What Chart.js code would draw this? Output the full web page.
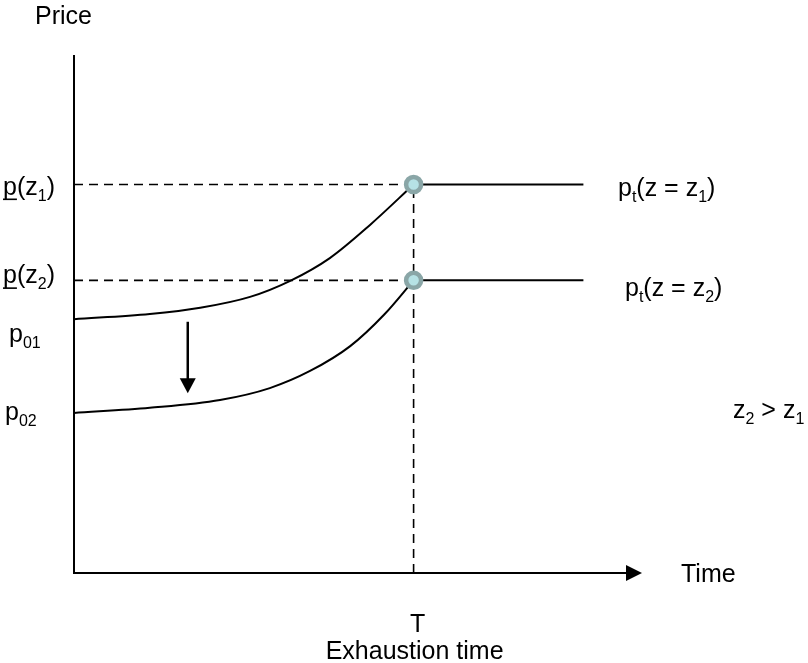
<!DOCTYPE html>
<html>
<head>
<meta charset="utf-8">
<title>Exhaustion time</title>
<script src="https://cdn.jsdelivr.net/npm/chart.js@4.4.1/dist/chart.umd.min.js"></script>
<style>
    body { margin: 0; background: #ffffff; }
    #wrap { width: 808px; height: 663px; }
</style>
</head>
<body>
<div id="wrap"><canvas id="chart_exhaustion" width="808" height="663"></canvas></div>
<script>
// ===== data (time 0..100, price 0..100) =====
var timeMax = 100;
var priceMax = 100;
var timeT = 60;          // exhaustion time
var timeEnd = 90;        // end of the flat price lines
var priceCaps = [75, 56.5];   // p(z1), p(z2)

var curveTimes1  = [0, 13.4, 22.3, 31.1, 38.2, 45.2, 52.3, 60];
var curvePrices1 = [49.0, 50.0, 51.2, 53.3, 56.4, 60.8, 67.2, 75];
var curveTimes2  = [0, 13.4, 25.8, 34.6, 41.7, 48.8, 54.9, 60];
var curvePrices2 = [30.9, 31.9, 33.4, 35.7, 39.0, 43.8, 50.0, 56.5];

var shiftTime = 20.1;           // the down arrow
var shiftPrices = [48.5, 34.7]; // from, to

var FONT = '"Liberation Sans", Arial, sans-serif';

function toPoints(xs, ys){
    var arr = [];
    for(var i = 0; i < xs.length; i++){
        arr.push({x: xs[i], y: ys[i]});
    }
    return arr;
}

function lineSet(data, dash){
    return {
        data: data,
        showLine: true,
        borderColor: '#000000',
        borderWidth: dash ? 1.6 : 2,
        borderDash: dash ? [9, 6] : [],
        pointRadius: 0,
        fill: false,
        order: 1
    };
}

var curve1 = lineSet(toPoints(curveTimes1, curvePrices1), false);
curve1.cubicInterpolationMode = 'monotone';
var curve2 = lineSet(toPoints(curveTimes2, curvePrices2), false);
curve2.cubicInterpolationMode = 'monotone';

var datasets = [
    {
        // markers at T, drawn on top of the lines
        data: [{x: timeT, y: priceCaps[0]}, {x: timeT, y: priceCaps[1]}],
        showLine: false,
        pointRadius: 7.5,
        pointBorderWidth: 4.5,
        pointBackgroundColor: '#b6e2e5',
        pointBorderColor: '#8aa6a7',
        order: 0
    },
    lineSet([{x: 0, y: priceCaps[0]}, {x: timeT, y: priceCaps[0]}], true),
    lineSet([{x: 0, y: priceCaps[1]}, {x: timeT, y: priceCaps[1]}], true),
    lineSet([{x: timeT, y: 0}, {x: timeT, y: priceCaps[0]}], true),
    curve1,
    curve2,
    lineSet([{x: timeT, y: priceCaps[0]}, {x: timeEnd, y: priceCaps[0]}], false),
    lineSet([{x: timeT, y: priceCaps[1]}, {x: timeEnd, y: priceCaps[1]}], false)
];

// rich text: [{t, sub, u}]
function drawRich(ctx, parts, x, y, align){
    var big = '25px ' + FONT, small = '16px ' + FONT;
    var w = 0;
    parts.forEach(function(p){
        ctx.font = p.sub ? small : big;
        w += ctx.measureText(p.t).width;
    });
    var cx = align == 'center' ? x - w / 2 : x;
    ctx.textAlign = 'left';
    ctx.textBaseline = 'alphabetic';
    parts.forEach(function(p){
        ctx.font = p.sub ? small : big;
        var pw = ctx.measureText(p.t).width;
        ctx.fillText(p.t, cx, p.sub ? y + 6 : y);
        if(p.u){
            ctx.fillRect(cx, y + 4, pw, 1.6);
        }
        cx += pw;
    });
}

var diagramPlugin = {
    id: 'diagram',
    afterDatasetsDraw: function(chart){
        var ctx = chart.ctx;
        var xs = chart.scales.x, ys = chart.scales.y;
        var left = xs.getPixelForValue(0), bottom = ys.getPixelForValue(0);
        var top = ys.getPixelForValue(priceMax), right = xs.getPixelForValue(timeMax);
        ctx.save();
        ctx.strokeStyle = '#000000';
        ctx.fillStyle = '#000000';
        ctx.lineWidth = 2;
        // axes
        ctx.beginPath();
        ctx.moveTo(left, top);
        ctx.lineTo(left, bottom);
        ctx.lineTo(right - 14, bottom);
        ctx.stroke();
        ctx.beginPath();
        ctx.moveTo(right + 2, bottom);
        ctx.lineTo(right - 14, bottom - 8);
        ctx.lineTo(right - 14, bottom + 8);
        ctx.closePath();
        ctx.fill();
        // down arrow
        var ax = xs.getPixelForValue(shiftTime);
        var a0 = ys.getPixelForValue(shiftPrices[0]), a1 = ys.getPixelForValue(shiftPrices[1]);
        ctx.lineWidth = 2.5;
        ctx.beginPath();
        ctx.moveTo(ax, a0);
        ctx.lineTo(ax, a1 - 12);
        ctx.stroke();
        ctx.beginPath();
        ctx.moveTo(ax, a1);
        ctx.lineTo(ax - 8, a1 - 15);
        ctx.lineTo(ax + 8, a1 - 15);
        ctx.closePath();
        ctx.fill();

        // labels
        var y1 = ys.getPixelForValue(priceCaps[0]), y2 = ys.getPixelForValue(priceCaps[1]);
        var tx = xs.getPixelForValue(timeT);
        drawRich(ctx, [{t: 'Price'}], 35, top - 31);
        drawRich(ctx, [{t: 'p', u: true}, {t: '(z'}, {t: '1', sub: true}, {t: ')'}], 3, y1 + 10);
        drawRich(ctx, [{t: 'p', u: true}, {t: '(z'}, {t: '2', sub: true}, {t: ')'}], 3, y2 + 3);
        drawRich(ctx, [{t: 'p'}, {t: '01', sub: true}], 9, ys.getPixelForValue(curvePrices1[0]) + 23);
        drawRich(ctx, [{t: 'p'}, {t: '02', sub: true}], 5, ys.getPixelForValue(curvePrices2[0]) + 7);
        drawRich(ctx, [{t: 'p'}, {t: 't', sub: true}, {t: '(z = z'}, {t: '1', sub: true}, {t: ')'}], 618, y1 + 11);
        drawRich(ctx, [{t: 'p'}, {t: 't', sub: true}, {t: '(z = z'}, {t: '2', sub: true}, {t: ')'}], 625, y2 + 16);
        drawRich(ctx, [{t: 'z'}, {t: '2', sub: true}, {t: ' > z'}, {t: '1', sub: true}], 733, 418);
        drawRich(ctx, [{t: 'Time'}], 681, bottom + 9);
        drawRich(ctx, [{t: 'T'}], tx + 4, bottom + 59, 'center');
        drawRich(ctx, [{t: 'Exhaustion time'}], tx + 1, bottom + 86, 'center');
        ctx.restore();
    }
};

var config = {
    type: 'scatter',
    data: { datasets: datasets },
    options: {
        responsive: false,
        animation: false,
        events: [],
        clip: false,
        layout: { padding: { left: 74, top: 55, right: 168, bottom: 90 } },
        plugins: { legend: { display: false }, tooltip: { enabled: false } },
        scales: {
            x: { type: 'linear', min: 0, max: timeMax, display: false },
            y: { type: 'linear', min: 0, max: priceMax, display: false }
        }
    },
    plugins: [diagramPlugin]
};
new Chart(document.getElementById('chart_exhaustion').getContext('2d'), config);
</script>
</body>
</html>
